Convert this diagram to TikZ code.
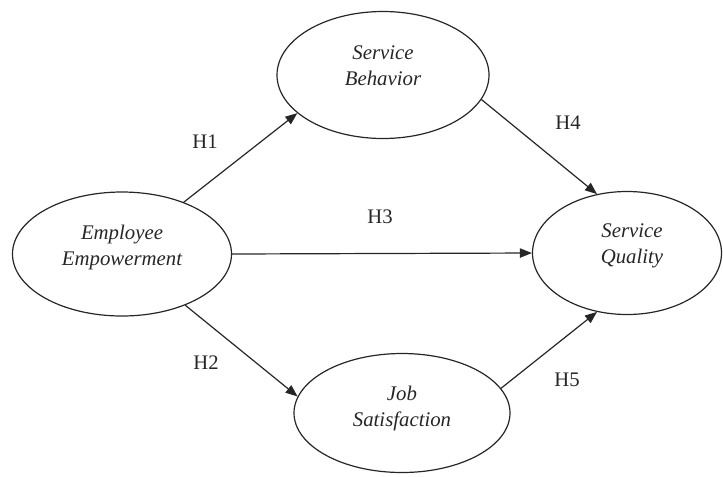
\documentclass[tikz,border=0pt]{standalone}
\usepackage{fontspec}
\setmainfont{Liberation Serif}
\usetikzlibrary{arrows.meta,shapes.geometric}
\begin{document}
\begin{tikzpicture}[x=0.75pt,y=-0.75pt,
  construct/.style={draw=black!85, line width=0.9pt, ellipse, inner sep=0pt},
  ctext/.style={align=center, font=\fontsize{15.6}{19.5}\selectfont\itshape, text=black!85},
  hlabel/.style={font=\fontsize{15.5}{18}\selectfont, text=black!85},
  path/.style={draw=black!85, line width=0.9pt, -{Triangle[length=9pt,width=7pt]}}]
\useasboundingbox (0,0) rectangle (723,476);
\node[construct, minimum width=159pt, minimum height=95.25pt] (SB) at (383,75) {};
\node[construct, minimum width=164.25pt, minimum height=93pt] (EE) at (122,254) {};
\node[construct, minimum width=141.75pt, minimum height=92.25pt] (SQ) at (627,253) {};
\node[construct, minimum width=162pt, minimum height=89.25pt] (JS) at (402,413) {};
\node[ctext] (tSB) at (383,66) {Service\\Behavior};
\node[ctext] (tEE) at (122,247) {Employee\\Empowerment};
\node[ctext] (tSQ) at (632,246) {Service\\Quality};
\node[ctext] (tJS) at (402,408) {Job\\Satisfaction};
\draw[path] (EE.40) -- (SB.204);
\draw[path] (EE.-39) -- (JS.171);
\draw[path] (EE.east) -- (SQ.west);
\draw[path] (SB.346) -- (SQ.117);
\draw[path] (JS.14) -- (SQ.243);
\node[hlabel] (H1) at (205,142) {H1};
\node[hlabel] (H2) at (206,363) {H2};
\node[hlabel] (H3) at (380,217) {H3};
\node[hlabel] (H4) at (568,123) {H4};
\node[hlabel] (H5) at (567,380) {H5};
\end{tikzpicture}
\end{document}
